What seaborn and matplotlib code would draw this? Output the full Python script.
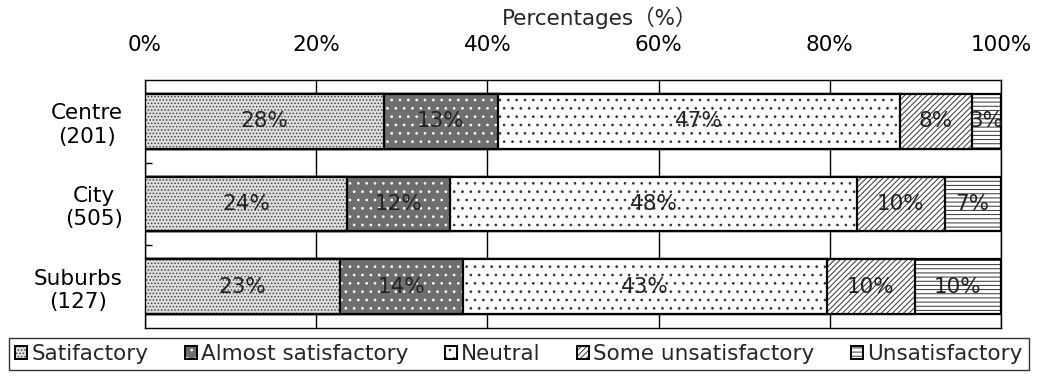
import matplotlib
matplotlib.use("Agg")
import matplotlib.pyplot as plt
from matplotlib.patches import Patch
from matplotlib.legend_handler import HandlerTuple
import numpy as np
import pandas as pd
import seaborn as sns

# Survey results: share of respondents per satisfaction level (%)
regions = ["Centre\n(201)", "City\n(505)", "Suburbs\n(127)"]
levels = ["Satifactory", "Almost satisfactory", "Neutral",
          "Some unsatisfactory", "Unsatisfactory"]
satisfactory = [27.9, 23.6, 22.8]
almost_satisfactory = [13.3, 12.0, 14.3]
neutral = [47.0, 47.6, 42.6]
some_unsatisfactory = [8.4, 10.2, 10.2]
unsatisfactory = [3.4, 6.6, 10.1]
x_ticks = [0, 20, 40, 60, 80, 100]
x_tick_labels = ["0%", "20%", "40%", "60%", "80%", "100%"]

series = [satisfactory, almost_satisfactory, neutral,
          some_unsatisfactory, unsatisfactory]

df = pd.DataFrame({"region": regions})
for lvl, vals in zip(levels, series):
    df[lvl] = vals
cum = df[levels].cumsum(axis=1)

# fill, hatch colour and hatch pattern for each level
styles = [
    dict(face="#dedede", hcol="#444444", hatch="....."),
    dict(face="#6e6e6e", hcol="white", hatch=".."),
    dict(face="white", hcol="#333333", hatch=".."),
    dict(face="white", hcol="#333333", hatch="//////"),
    dict(face="white", hcol="#333333", hatch="----"),
]

FS = 15.5
sns.set_theme(style="white")
plt.rcParams["font.family"] = ["DejaVu Sans", "Noto Sans CJK JP"]
plt.rcParams["hatch.linewidth"] = 0.7

fig = plt.figure(figsize=(10.38, 3.83), dpi=100)
ax = fig.add_axes([0.1397, 0.1436, 0.8247, 0.6475])

bar_h = 0.66
edge_lw = 1.6


def style_last(face, edge, hatch, lw):
    for p in ax.containers[-1].patches:
        p.set_facecolor(face)
        p.set_edgecolor(edge)
        p.set_hatch(hatch)
        p.set_linewidth(lw)
        p.set_zorder(3)


def draw_layer(values):
    tmp = pd.DataFrame({"region": regions, "value": values})
    sns.barplot(data=tmp, x="value", y="region", orient="h", width=bar_h,
                color="white", saturation=1, errorbar=None, ax=ax)


# stacked bars: draw cumulative totals from the largest down,
# each as a hatched fill followed by a black outline
for i in reversed(range(len(levels))):
    st = styles[i]
    vals = cum[levels[i]].values
    draw_layer(vals)
    style_last(st["face"], st["hcol"], st["hatch"], 0)
    draw_layer(vals)
    style_last("none", "black", "", edge_lw)

# value labels centred in each segment
for i, lvl in enumerate(levels):
    for j in range(len(regions)):
        v = df.loc[j, lvl]
        xc = cum.loc[j, lvl] - v / 2
        ax.text(xc, j, f"{v:.0f}%", ha="center", va="center",
                fontsize=FS, color="#222222", zorder=5)

ax.set_xlim(0, 100)
ax.set_ylim(len(regions) - 0.5, -0.5)
ax.set_xlabel("")
ax.set_ylabel("")
ax.xaxis.tick_top()
ax.set_xticks(x_ticks)
ax.set_xticklabels(x_tick_labels)
ax.tick_params(axis="x", length=0, pad=18, labelsize=FS, colors="black")
ax.tick_params(axis="y", which="major", length=0, pad=16, labelsize=FS,
               colors="black")
for lab in ax.get_yticklabels():
    lab.set_multialignment("center")
ax.set_yticks([0.5, 1.5], minor=True)
ax.tick_params(axis="y", which="minor", direction="in", length=5, width=1,
               color="black", left=True)
ax.grid(axis="x", color="black", linewidth=1)
ax.set_axisbelow(True)
for s in ax.spines.values():
    s.set_visible(True)
    s.set_color("black")
    s.set_linewidth(1)

fig.text(600 / 1038, 1 - 18 / 383, "Percentages（%）", ha="center",
         va="center", fontsize=FS)

handles = []
for st in styles:
    handles.append((Patch(facecolor=st["face"], edgecolor=st["hcol"],
                          hatch=st["hatch"], linewidth=0),
                    Patch(facecolor="none", edgecolor="black",
                          linewidth=1.4)))

leg = fig.legend(handles, levels, loc="center",
                 bbox_to_anchor=(519 / 1038, 1 - 354 / 383), ncol=5,
                 fontsize=FS, frameon=True, fancybox=False,
                 edgecolor="black", handlelength=0.55, handleheight=0.55,
                 handletextpad=0.2, columnspacing=1.7, borderpad=0.3,
                 handler_map={tuple: HandlerTuple(ndivide=1, pad=0)})
leg.get_frame().set_linewidth(1)

fig.savefig("out.png", dpi=100, facecolor="white")
